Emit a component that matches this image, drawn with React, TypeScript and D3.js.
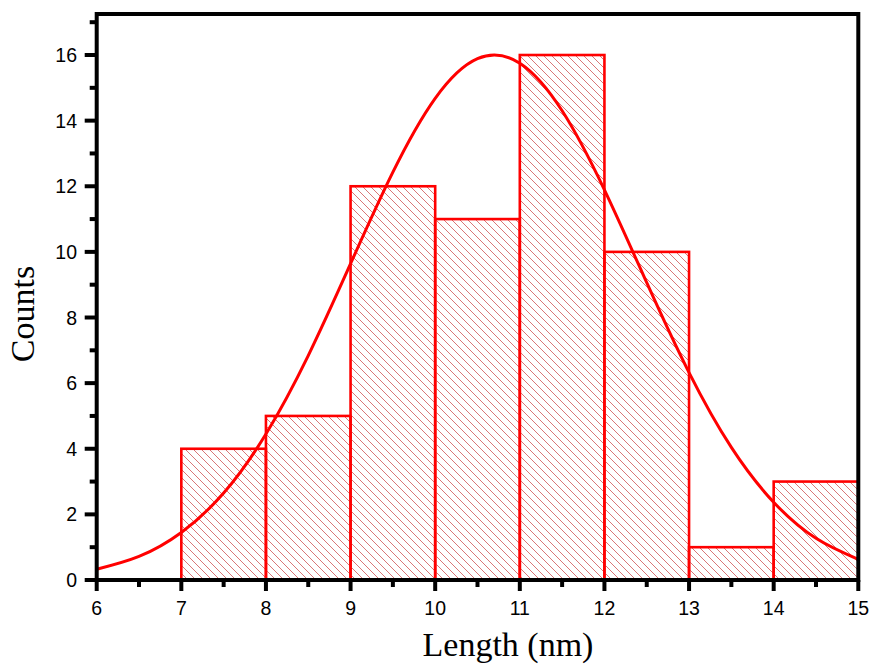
import React from "react";
import * as d3 from "d3";

const binStarts = [7, 8, 9, 10, 11, 12, 13, 14];
const binWidth = 1;
const counts = [4, 5, 12, 11, 16, 10, 1, 3];

const fitX = [6, 6.5, 7, 7.5, 8, 8.5, 9, 9.5, 10, 10.5, 11, 11.5, 12, 12.5, 13, 13.5, 14, 14.5, 15];
const fitY = [0.33, 0.72, 1.45, 2.65, 4.45, 6.84, 9.64, 12.43, 14.68, 15.89, 15.75, 14.3, 11.89, 9.06, 6.32, 4.04, 2.37, 1.27, 0.63];

const xMajor = [6, 7, 8, 9, 10, 11, 12, 13, 14, 15];
const xMinor = [6.5, 7.5, 8.5, 9.5, 10.5, 11.5, 12.5, 13.5, 14.5];
const yMajor = [0, 2, 4, 6, 8, 10, 12, 14, 16];
const yMinor = [1, 3, 5, 7, 9, 11, 13, 15, 17];

const W = 874;
const H = 664;
const L = 96.7;
const R = 858.3;
const T = 14;
const B = 580;

export default function App() {
  const x = d3.scaleLinear().domain([6, 15]).range([L, R]);
  const y = d3.scaleLinear().domain([0, 17.25]).range([B, T]);
  const line = d3
    .line<number>()
    .x((_, i) => x(fitX[i]))
    .y((d) => y(d))
    .curve(d3.curveNatural);
  const red = "#ff0000";
  return (
    <svg
      width={W}
      height={H}
      style={{ position: "absolute", left: 0, top: 0, background: "#fff" }}
    >
      <defs>
        <pattern id="hatch" patternUnits="userSpaceOnUse" width={8} height={8}>
          <path
            d="M-2,-2 L10,10 M-2,6 L2,10 M6,-2 L10,2"
            stroke="rgb(210,95,95)"
            strokeWidth={0.85}
          />
        </pattern>
        <clipPath id="plot">
          <rect x={L} y={T} width={R - L} height={B - T} />
        </clipPath>
      </defs>
      <rect x={0} y={0} width={W} height={H} fill="#fff" />
      <g clipPath="url(#plot)">
        {binStarts.map((s, i) => (
          <rect
            key={s}
            x={x(s)}
            y={y(counts[i])}
            width={x(s + binWidth) - x(s)}
            height={y(0) - y(counts[i])}
            fill="url(#hatch)"
            stroke={red}
            strokeWidth={2.6}
          />
        ))}
        <path d={line(fitY) || ""} fill="none" stroke={red} strokeWidth={3} />
      </g>
      <rect x={L} y={T} width={R - L} height={B - T} fill="none" stroke="#000" strokeWidth={4} />
      {xMajor.map((v) => (
        <line key={"xM" + v} x1={x(v)} x2={x(v)} y1={B} y2={B + 11} stroke="#000" strokeWidth={4} />
      ))}
      {xMinor.map((v) => (
        <line key={"xm" + v} x1={x(v)} x2={x(v)} y1={B} y2={B + 7} stroke="#000" strokeWidth={4} />
      ))}
      {yMajor.map((v) => (
        <line key={"yM" + v} x1={L - 12} x2={L} y1={y(v)} y2={y(v)} stroke="#000" strokeWidth={4} />
      ))}
      {yMinor.map((v) => (
        <line key={"ym" + v} x1={L - 7} x2={L} y1={y(v)} y2={y(v)} stroke="#000" strokeWidth={4} />
      ))}
      {xMajor.map((v) => (
        <text
          key={"xl" + v}
          x={x(v)}
          y={614.5}
          textAnchor="middle"
          fontFamily="Liberation Sans, Arial, sans-serif"
          fontSize={19.5}
          fill="#000"
        >
          {v}
        </text>
      ))}
      {yMajor.map((v) => (
        <text
          key={"yl" + v}
          x={77}
          y={y(v) + 7}
          textAnchor="end"
          fontFamily="Liberation Sans, Arial, sans-serif"
          fontSize={19.5}
          fill="#000"
        >
          {v}
        </text>
      ))}
      <text
        x={508}
        y={656}
        textAnchor="middle"
        fontFamily="Liberation Serif, Times New Roman, serif"
        fontSize={34}
        fill="#000"
      >
        Length (nm)
      </text>
      <text
        transform={`translate(34,314) rotate(-90)`}
        textAnchor="middle"
        fontFamily="Liberation Serif, Times New Roman, serif"
        fontSize={34}
        fill="#000"
      >
        Counts
      </text>
    </svg>
  );
}
